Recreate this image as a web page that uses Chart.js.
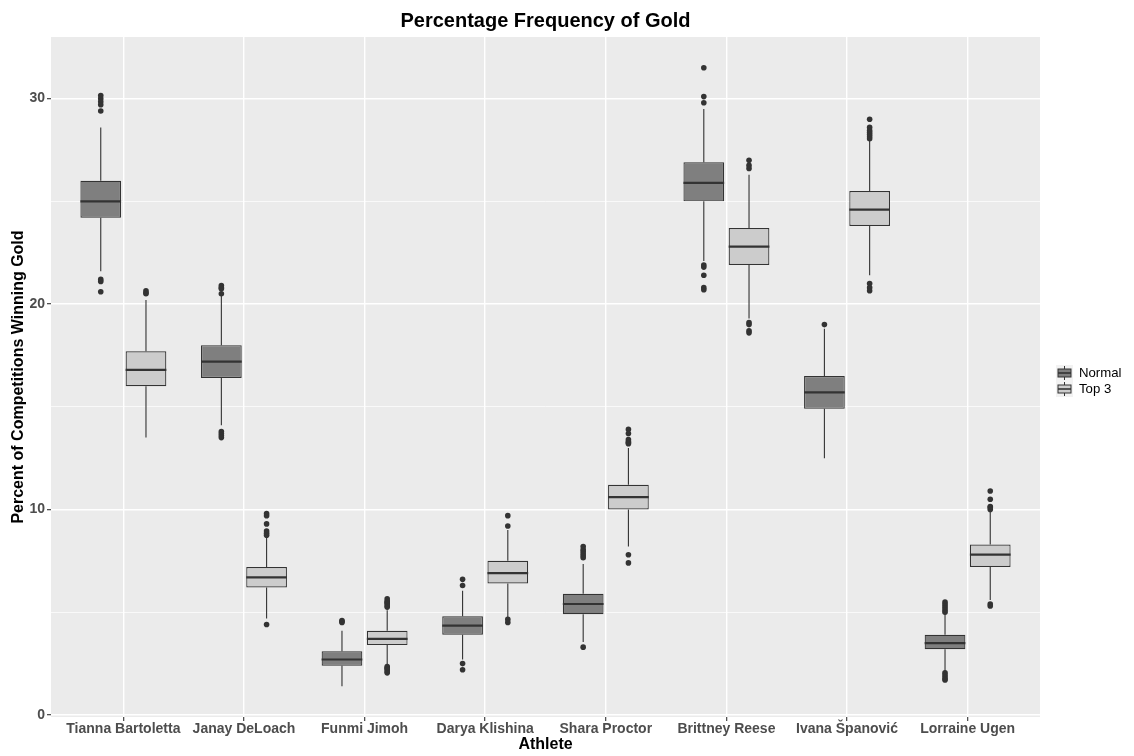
<!DOCTYPE html>
<html>
<head>
<meta charset="utf-8">
<script src="https://cdn.jsdelivr.net/npm/chart.js@4/dist/chart.umd.min.js"></script>
<style>
  html, body { margin: 0; padding: 0; background: #ffffff; }
  #wrap { width: 1134px; height: 756px; }
</style>
</head>
<body>
<div id="wrap"><canvas id="chart" width="1134" height="756"></canvas></div>
<script>
// Athletes on the x axis
const athletes = ['Tianna Bartoletta', 'Janay DeLoach', 'Funmi Jimoh', 'Darya Klishina',
                  'Shara Proctor', 'Brittney Reese', 'Ivana Španović', 'Lorraine Ugen'];
const seriesNames = ['Normal', 'Top 3'];

// "Normal" series: whisker ends, quartiles, medians, outlying simulations
const normalLow    = [21.6, 14.1, 1.4, 2.7, 3.55, 22.1, 12.5, 2.1];
const normalQ1     = [24.2, 16.4, 2.4, 3.9, 4.9, 25.0, 14.9, 3.2];
const normalMedian = [25.0, 17.2, 2.7, 4.35, 5.4, 25.9, 15.7, 3.5];
const normalQ3     = [26.0, 18.0, 3.1, 4.8, 5.9, 26.9, 16.5, 3.9];
const normalHigh   = [28.6, 20.4, 4.1, 6.05, 7.35, 29.5, 18.8, 4.9];
const normalOutliers = [
  [30.15, 30.0, 29.85, 29.7, 29.4, 21.2, 21.1, 20.6],
  [20.9, 20.8, 20.75, 20.5, 13.8, 13.7, 13.6, 13.5],
  [4.6, 4.55, 4.5],
  [6.6, 6.3, 2.5, 2.2],
  [8.2, 8.05, 7.95, 7.85, 7.75, 7.65, 3.3],
  [31.5, 30.1, 29.8, 21.9, 21.8, 21.4, 20.8, 20.7],
  [19.0],
  [5.5, 5.4, 5.3, 5.2, 5.1, 5.0, 2.05, 1.95, 1.85, 1.75, 1.7]
];

// "Top 3" series
const top3Low    = [13.5, 4.7, 2.4, 4.75, 8.2, 19.3, 21.4, 5.6];
const top3Q1     = [16.0, 6.2, 3.4, 6.4, 10.0, 21.9, 23.8, 7.2];
const top3Median = [16.8, 6.7, 3.7, 6.9, 10.6, 22.8, 24.6, 7.8];
const top3Q3     = [17.7, 7.2, 4.1, 7.5, 11.2, 23.7, 25.5, 8.3];
const top3High   = [20.2, 8.65, 5.1, 9.0, 13.0, 26.3, 28.0, 9.95];
const top3Outliers = [
  [20.65, 20.55, 20.5],
  [9.8, 9.7, 9.3, 8.95, 8.85, 8.75, 4.4],
  [5.65, 5.55, 5.5, 5.45, 5.4, 5.3, 5.25, 2.35, 2.3, 2.25, 2.2, 2.1, 2.05],
  [9.7, 9.2, 4.65, 4.5],
  [13.9, 13.7, 13.4, 13.3, 13.25, 13.2, 7.8, 7.4],
  [27.0, 26.75, 26.6, 19.1, 19.0, 18.7, 18.6],
  [29.0, 28.6, 28.45, 28.35, 28.25, 28.15, 28.05, 21.0, 20.8, 20.65],
  [10.9, 10.5, 10.15, 10.1, 10.0, 5.4, 5.3]
];

// Y axis grid values and which of them carry a label
const yTickValues  = [0, 5, 10, 15, 20, 25, 30];
const yLabelValues = [0, 10, 20, 30];

const FONT = "'Liberation Sans', Arial, Helvetica, sans-serif";
const fillColors = ['#7F7F7F', '#CCCCCC'];
const edgeColor = '#333333';

const boxStats = [
  { low: normalLow, med: normalMedian, high: normalHigh, out: normalOutliers },
  { low: top3Low,   med: top3Median,   high: top3High,   out: top3Outliers }
];

const toBoxes = (q1, q3) => athletes.map((_, i) => ({ x: i, y: [q1[i], q3[i]] }));

// Grey panel behind the plotting area
const panelBackground = {
  id: 'panelBackground',
  beforeDraw(chart) {
    const { ctx, chartArea: a } = chart;
    ctx.save();
    ctx.fillStyle = '#ffffff';
    ctx.fillRect(0, 0, chart.width, chart.height);
    ctx.fillStyle = '#EBEBEB';
    ctx.fillRect(a.left, a.top, a.right - a.left, a.bottom - a.top);
    ctx.restore();
  }
};

// Whiskers, medians and outlier points on top of the quartile boxes
const boxDetails = {
  id: 'boxDetails',
  afterDatasetsDraw(chart) {
    const { ctx } = chart;
    const yScale = chart.scales.y;
    ctx.save();
    boxStats.forEach((st, d) => {
      const meta = chart.getDatasetMeta(d);
      meta.data.forEach((bar, i) => {
        const x = bar.x;
        const half = bar.width / 2;
        const q1 = chart.data.datasets[d].data[i].y[0];
        const q3 = chart.data.datasets[d].data[i].y[1];
        ctx.strokeStyle = edgeColor;
        ctx.lineWidth = 1.1;
        ctx.beginPath();
        ctx.moveTo(x, yScale.getPixelForValue(q3));
        ctx.lineTo(x, yScale.getPixelForValue(st.high[i]));
        ctx.moveTo(x, yScale.getPixelForValue(q1));
        ctx.lineTo(x, yScale.getPixelForValue(st.low[i]));
        ctx.stroke();
        ctx.lineWidth = 2.2;
        ctx.beginPath();
        const ym = yScale.getPixelForValue(st.med[i]);
        ctx.moveTo(x - half, ym);
        ctx.lineTo(x + half, ym);
        ctx.stroke();
        ctx.fillStyle = edgeColor;
        st.out[i].forEach(v => {
          ctx.beginPath();
          ctx.arc(x, yScale.getPixelForValue(v), 2.8, 0, Math.PI * 2);
          ctx.fill();
        });
      });
    });
    ctx.restore();
  }
};

// Title centred over the panel, and the boxplot-glyph legend on the right
const titleAndLegend = {
  id: 'titleAndLegend',
  afterDraw(chart) {
    const { ctx, chartArea: a } = chart;
    ctx.save();
    ctx.fillStyle = '#000000';
    ctx.font = `bold 20px ${FONT}`;
    ctx.textAlign = 'center';
    ctx.textBaseline = 'alphabetic';
    ctx.fillText('Percentage Frequency of Gold', (a.left + a.right) / 2, 27);

    const keySize = 16;
    const kx = a.right + 16;
    const ky0 = 365;
    seriesNames.forEach((name, k) => {
      const ky = ky0 + k * keySize;
      ctx.fillStyle = '#F2F2F2';
      ctx.fillRect(kx, ky, 17, keySize);
      const cx = kx + 8.5;
      ctx.strokeStyle = edgeColor;
      ctx.lineWidth = 1;
      ctx.beginPath();
      ctx.moveTo(cx, ky + 1);
      ctx.lineTo(cx, ky + keySize - 1);
      ctx.stroke();
      ctx.fillStyle = fillColors[k];
      ctx.fillRect(kx + 2, ky + 4, 13, 8);
      ctx.strokeRect(kx + 2, ky + 4, 13, 8);
      ctx.lineWidth = 1.6;
      ctx.beginPath();
      ctx.moveTo(kx + 2, ky + 8);
      ctx.lineTo(kx + 15, ky + 8);
      ctx.stroke();
      ctx.fillStyle = '#000000';
      ctx.font = `13.2px ${FONT}`;
      ctx.textAlign = 'left';
      ctx.textBaseline = 'middle';
      ctx.fillText(name, kx + 23, ky + keySize / 2 + 0.5);
    });
    ctx.restore();
  }
};

new Chart(document.getElementById('chart'), {
  type: 'bar',
  data: {
    datasets: [
      {
        label: seriesNames[0],
        data: toBoxes(normalQ1, normalQ3),
        backgroundColor: fillColors[0],
        borderColor: edgeColor,
        borderWidth: 1.2,
        borderSkipped: false
      },
      {
        label: seriesNames[1],
        data: toBoxes(top3Q1, top3Q3),
        backgroundColor: fillColors[1],
        borderColor: edgeColor,
        borderWidth: 1.2,
        borderSkipped: false
      }
    ]
  },
  options: {
    responsive: false,
    animation: false,
    devicePixelRatio: 1,
    categoryPercentage: 0.75,
    barPercentage: 0.9,
    layout: { padding: { top: 37, right: 94, left: 0, bottom: 0 } },
    plugins: {
      legend: { display: false },
      title: { display: false },
      tooltip: { enabled: false }
    },
    scales: {
      x: {
        type: 'linear',
        min: -0.6,
        max: 7.6,
        offset: false,
        afterBuildTicks: s => { s.ticks = athletes.map((_, i) => ({ value: i })); },
        afterFit: s => { s.height = 39; },
        ticks: {
          autoSkip: false,
          maxRotation: 0,
          padding: 0,
          color: '#4D4D4D',
          font: { family: FONT, size: 14, weight: 'bold' },
          callback: v => athletes[v]
        },
        grid: {
          offset: false,
          color: '#ffffff',
          lineWidth: 1.4,
          tickLength: 4,
          tickColor: '#333333',
          tickWidth: 1.1
        },
        border: { display: false },
        title: {
          display: true,
          text: 'Athlete',
          color: '#000000',
          font: { family: FONT, size: 16, weight: 'bold' },
          padding: { top: 0, bottom: 2 }
        }
      },
      y: {
        type: 'linear',
        min: -0.1,
        max: 33,
        afterBuildTicks: s => { s.ticks = yTickValues.map(v => ({ value: v })); },
        afterFit: s => { s.width = 51; },
        ticks: {
          autoSkip: false,
          padding: 2,
          color: '#4D4D4D',
          font: { family: FONT, size: 14, weight: 'bold' },
          callback: v => (yLabelValues.includes(v) ? String(v) : '')
        },
        grid: {
          color: '#ffffff',
          lineWidth: c => (yLabelValues.includes(c.tick.value) ? 1.4 : 0.7),
          tickLength: 4,
          tickColor: c => (yLabelValues.includes(c.tick.value) ? '#333333' : 'rgba(0,0,0,0)'),
          tickWidth: 1.1
        },
        border: { display: false },
        title: {
          display: true,
          text: 'Percent of Competitions Winning Gold',
          color: '#000000',
          font: { family: FONT, size: 16, weight: 'bold' },
          padding: { top: 9, bottom: 0 }
        }
      }
    }
  },
  plugins: [panelBackground, boxDetails, titleAndLegend]
});
</script>
</body>
</html>
